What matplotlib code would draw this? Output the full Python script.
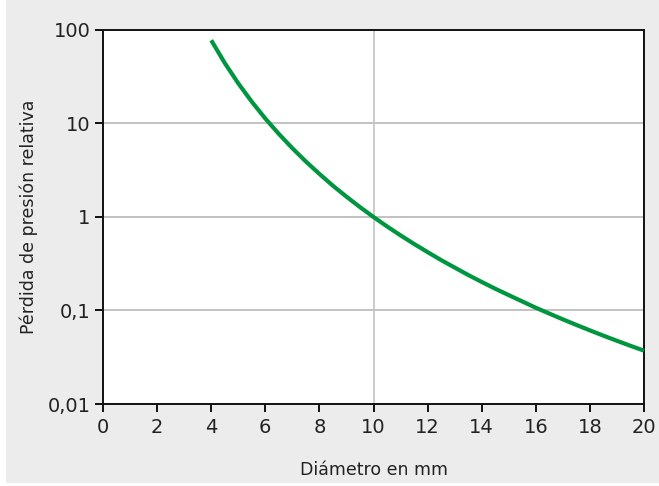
import matplotlib
matplotlib.use("Agg")
import matplotlib.pyplot as plt
from matplotlib.patches import Rectangle
from matplotlib.ticker import FixedLocator, FixedFormatter, NullLocator

diameter_mm = [4, 4.5, 5, 5.5, 6, 6.5, 7, 7.5, 8, 8.5, 9, 9.5, 10, 10.5, 11, 11.5,
               12, 12.5, 13, 13.5, 14, 14.5, 15, 15.5, 16, 16.5, 17, 17.5, 18,
               18.5, 19, 19.5, 20]
relative_loss = [77.7, 44.4, 26.9, 17.1, 11.3, 7.74, 5.44, 3.92, 2.89, 2.16,
                 1.65, 1.276, 1.0, 0.793, 0.636, 0.515, 0.421, 0.346, 0.288,
                 0.240, 0.202, 0.171, 0.146, 0.125, 0.107, 0.0927, 0.0804,
                 0.0701, 0.0613, 0.0538, 0.0474, 0.0419, 0.0372]
x_ticks = [0, 2, 4, 6, 8, 10, 12, 14, 16, 18, 20]
y_ticks = [0.01, 0.1, 1, 10, 100]
y_labels = ["0,01", "0,1", "1", "10", "100"]

W, H = 659, 486
fig = plt.figure(figsize=(W / 100, H / 100), dpi=100)
fig.patches.append(Rectangle((6 / W, 3 / H), 1 - 6 / W, 1 - 3 / H,
                             transform=fig.transFigure, facecolor="#ececec",
                             edgecolor="none", zorder=-10))

ax = fig.add_axes([103 / W, (H - 404) / H, (644 - 103) / W, (404 - 30) / H])
ax.set_facecolor("white")

ax.set_yscale("log")
ax.set_xlim(0, 20)
ax.set_ylim(0.01, 100)

for yv in [0.1, 1, 10]:
    ax.axhline(yv, color="#b8b8b8", lw=1.2, zorder=1)
ax.axvline(10, color="#c4c4c4", lw=1.2, zorder=1)

ax.plot(diameter_mm, relative_loss, color="#009640", lw=3,
        solid_capstyle="butt", solid_joinstyle="round", zorder=3, clip_on=False)

ax.xaxis.set_major_locator(FixedLocator(x_ticks))
ax.yaxis.set_major_locator(FixedLocator(y_ticks))
ax.yaxis.set_major_formatter(FixedFormatter(y_labels))
ax.yaxis.set_minor_locator(NullLocator())

for s in ax.spines.values():
    s.set_color("#111111")
    s.set_linewidth(1.4)

ax.tick_params(axis="both", which="major", direction="out", length=6,
               width=1.4, color="#111111", labelsize=14, labelcolor="#222222")
ax.tick_params(axis="x", pad=4)
ax.tick_params(axis="y", pad=3)

ax.set_xlabel("Diámetro en mm", fontsize=12.5, color="#222222", labelpad=17)
ax.set_ylabel("Pérdida de presión relativa", fontsize=12.5, color="#222222",
              labelpad=7)

fig.savefig("out.png", dpi=100)
